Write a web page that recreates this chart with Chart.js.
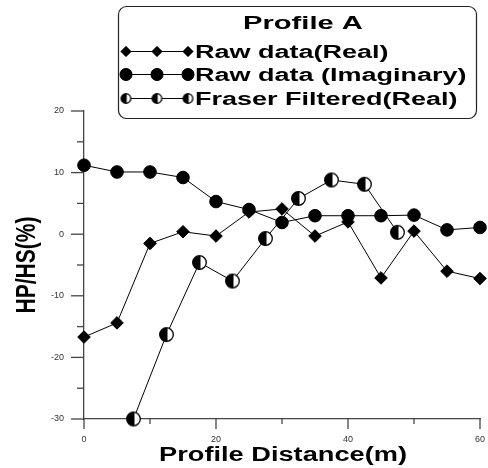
<!DOCTYPE html>
<html>
<head>
<meta charset="utf-8">
<script src="https://cdn.jsdelivr.net/npm/chart.js@4/dist/chart.umd.min.js"></script>
<style>
html,body{margin:0;padding:0;background:#fff;}
#wrap{width:488px;height:468px;position:relative;}
</style>
</head>
<body>
<div id="wrap"><canvas id="c" width="488" height="468"></canvas></div>
<script>
// ---- data ----
const legendTitle = 'Profile A';
const xTitle = 'Profile Distance(m)';
const yTitle = 'HP/HS(%)';
const seriesLabels = ['Raw data(Real)', 'Raw data (Imaginary)', 'Fraser Filtered(Real)'];
const distance = [0, 5, 10, 15, 20, 25, 30, 35, 40, 45, 50, 55, 60];
const rawReal = [-16.7, -14.4, -1.5, 0.4, -0.3, 3.6, 4.1, -0.3, 2.0, -7.1, 0.5, -6.0, -7.2];
const rawImag = [11.2, 10.1, 10.1, 9.2, 5.3, 4.0, 1.9, 3.0, 3.0, 3.0, 3.1, 0.7, 1.1];
const fraserDistance = [7.5, 12.5, 17.5, 22.5, 27.5, 32.5, 37.5, 42.5, 47.5];
const fraserReal = [-30, -16.3, -4.6, -7.6, -0.7, 5.8, 8.8, 8.1, 0.3];
const xTicks = [0, 20, 40, 60];
const yTicks = [-30, -20, -10, 0, 10, 20];

function halfCircle(r) {
  const s = Math.ceil(r * 2 + 3);
  const cv = document.createElement('canvas');
  cv.width = s; cv.height = s;
  const g = cv.getContext('2d');
  const c = s / 2;
  g.beginPath(); g.arc(c, c, r, 0, Math.PI * 2); g.fillStyle = '#fff'; g.fill();
  g.beginPath(); g.arc(c, c, r, Math.PI / 2 - 0.15, Math.PI * 1.5 + 0.15, false); g.closePath(); g.fillStyle = '#000'; g.fill();
  g.beginPath(); g.arc(c, c, r, 0, Math.PI * 2); g.lineWidth = 1.3; g.strokeStyle = '#000'; g.stroke();
  return cv;
}
const halfBig = halfCircle(6.8);
const halfSmall = halfCircle(4.8);

const FONT = '"Liberation Sans", Arial, sans-serif';

const ticksPlugin = {
  id: 'ticksPlugin',
  afterDraw(chart) {
    const ctx = chart.ctx;
    const xs = chart.scales.x, ys = chart.scales.y;
    const ca = chart.chartArea;
    ctx.save();
    ctx.strokeStyle = '#444';
    ctx.lineWidth = 1.3;
    for (let v = -30; v <= 20; v += 5) {
      const y = ys.getPixelForValue(v);
      const len = (v % 10 === 0) ? 13 : 7;
      ctx.beginPath(); ctx.moveTo(ca.left - len, y); ctx.lineTo(ca.left, y); ctx.stroke();
    }
    for (let v = 0; v <= 60; v += 10) {
      const x = xs.getPixelForValue(v);
      const len = (v % 20 === 0) ? 10 : 5;
      ctx.beginPath(); ctx.moveTo(x, ca.bottom); ctx.lineTo(x, ca.bottom + len); ctx.stroke();
    }
    // axis titles (stretched horizontally)
    ctx.fillStyle = '#000';
    ctx.font = 'bold 20px ' + FONT;
    ctx.textAlign = 'center';
    ctx.textBaseline = 'alphabetic';
    ctx.save();
    ctx.translate(283, 461);
    ctx.scale(1.36, 1);
    ctx.fillText(xTitle, 0, 0);
    ctx.restore();
    ctx.save();
    ctx.font = 'bold 21px ' + FONT;
    ctx.translate(35, 265);
    ctx.scale(1.3, 1);
    ctx.rotate(-Math.PI / 2);
    ctx.textBaseline = 'alphabetic';
    ctx.fillText(yTitle, 0, 0);
    ctx.restore();

    // legend box
    const bx = 118, by = 6, bw = 358, bh = 112, rr = 8;
    ctx.beginPath();
    ctx.roundRect(bx + 0.5, by + 0.5, bw, bh, rr);
    ctx.fillStyle = '#fff'; ctx.fill();
    ctx.strokeStyle = '#222'; ctx.lineWidth = 1.2; ctx.stroke();
    ctx.fillStyle = '#000';
    ctx.textAlign = 'left';
    ctx.textBaseline = 'alphabetic';
    ctx.font = 'bold 18px ' + FONT;
    ctx.save(); ctx.translate(243, 29); ctx.scale(1.62, 1); ctx.fillText(legendTitle, 0, 0); ctx.restore();
    const baselines = [58, 81, 105];
    const styles = ['rectRot', 'circle', halfSmall];
    const radii = [5, 6, 4.8];
    chart.data.datasets.forEach((ds, i) => {
      const cy = baselines[i] - 6.5;
      ctx.strokeStyle = '#000'; ctx.lineWidth = 1;
      ctx.beginPath(); ctx.moveTo(126, cy); ctx.lineTo(188, cy); ctx.stroke();
      [126, 157, 188].forEach(mx => {
        Chart.helpers.drawPoint(ctx, {pointStyle: styles[i], radius: radii[i], rotation: 0, borderWidth: 1}, mx, cy);
        if (typeof styles[i] === 'string') { ctx.fillStyle = '#000'; ctx.fill(); }
      });
      ctx.fillStyle = '#000';
      ctx.save(); ctx.translate(195, baselines[i]); ctx.scale(1.5, 1); ctx.fillText(ds.label, 0, 0); ctx.restore();
    });
    ctx.restore();
  }
};

new Chart(document.getElementById('c'), {
  type: 'line',
  data: {
    datasets: [
      {
        label: seriesLabels[0],
        data: distance.map((d, i) => ({x: d, y: rawReal[i]})),
        borderColor: '#000', borderWidth: 1, backgroundColor: '#000',
        pointStyle: 'rectRot', pointRadius: 6.3, pointBackgroundColor: '#000', pointBorderColor: '#000', pointBorderWidth: 1
      },
      {
        label: seriesLabels[1],
        data: distance.map((d, i) => ({x: d, y: rawImag[i]})),
        borderColor: '#000', borderWidth: 1, backgroundColor: '#000',
        pointStyle: 'circle', pointRadius: 6.3, pointBackgroundColor: '#000', pointBorderColor: '#000', pointBorderWidth: 1
      },
      {
        label: seriesLabels[2],
        data: fraserDistance.map((d, i) => ({x: d, y: fraserReal[i]})),
        borderColor: '#000', borderWidth: 1, backgroundColor: '#000',
        pointStyle: halfBig, pointRadius: 7
      }
    ]
  },
  options: {
    responsive: false,
    animation: false,
    clip: false,
    layout: {padding: {top: 111, right: 7, left: 0, bottom: 0}},
    plugins: {legend: {display: false}, tooltip: {enabled: false}},
    scales: {
      x: {
        type: 'linear', min: 0, max: 60,
        afterBuildTicks: s => { s.ticks = xTicks.map(v => ({value: v})); },
        afterFit: s => { s.height = 49; s.paddingLeft = 0; s.paddingRight = 0; },
        grid: {display: false, drawTicks: false},
        border: {display: true, color: '#444', width: 1.3},
        ticks: {color: '#333', font: {size: 9, family: FONT}, padding: 15, maxRotation: 0}
      },
      y: {
        type: 'linear', min: -30, max: 20,
        afterBuildTicks: s => { s.ticks = yTicks.map(v => ({value: v})); },
        afterFit: s => { s.width = 84; s.paddingTop = 0; s.paddingBottom = 0; },
        grid: {display: false, drawTicks: false},
        border: {display: true, color: '#444', width: 1.3},
        ticks: {color: '#333', font: {size: 9, family: FONT}, padding: 20}
      }
    }
  },
  plugins: [ticksPlugin]
});
</script>
</body>
</html>
